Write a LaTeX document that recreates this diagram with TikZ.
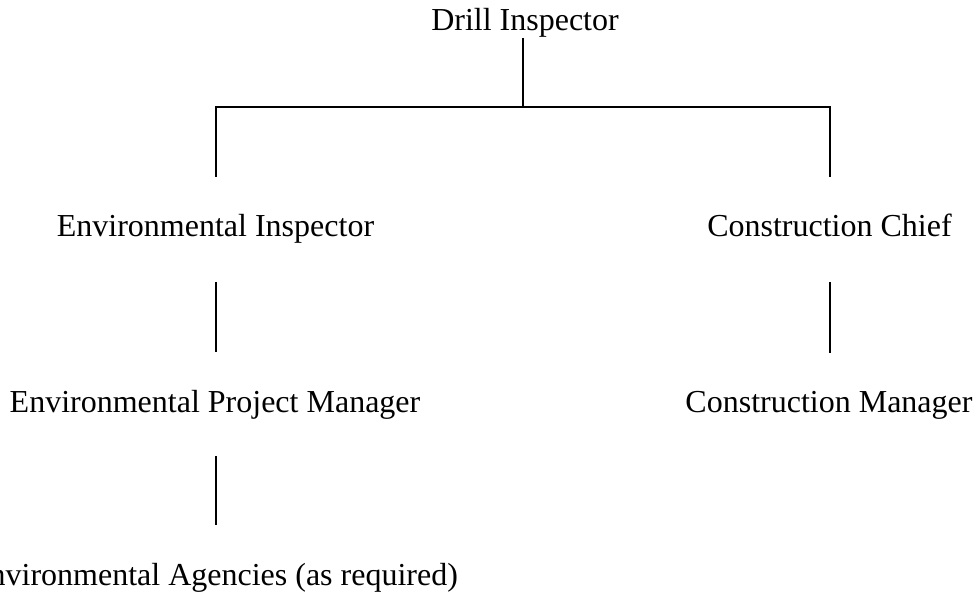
\documentclass[tikz,border=0pt]{standalone}
\usepackage{fontspec}
\setmainfont{Liberation Serif}
\begin{document}
\begin{tikzpicture}[x=1pt,y=-1pt,
  lbl/.style={anchor=base,inner sep=0pt,outer sep=0pt,font=\fontsize{32}{38}\selectfont},
  conn/.style={line width=2.5pt,black}]
\useasboundingbox (0,0) rectangle (976,593);
\node[lbl] (di) at (525,31) {Drill Inspector};
\node[lbl] (ei) at (215.5,237) {Environmental Inspector};
\node[lbl] (cc) at (829.5,237) {Construction Chief};
\node[lbl] (pm) at (215,412) {Environmental Project Manager};
\node[lbl] (cm) at (829,412) {Construction Manager};
\node[lbl] (ea) at (214,585) {Environmental Agencies (as required)};
\coordinate (bar) at (523,107);
\coordinate (eitop) at (216,177);
\coordinate (cctop) at (830,177);
\draw[conn] (di.south -| bar) -- (bar);
\draw[conn] (eitop) -- (eitop |- bar) -- (cctop |- bar) -- (cctop);
\draw[conn] ([yshift=-38pt]ei.south -| eitop) -- ([yshift=38pt]pm.north -| eitop);
\draw[conn] ([yshift=-38pt]ei.south -| cctop) -- ([yshift=38pt]cm.north -| cctop);
\draw[conn] ([yshift=-37pt]pm.south -| eitop) -- ([yshift=38pt]ea.north -| eitop);
\end{tikzpicture}
\end{document}
